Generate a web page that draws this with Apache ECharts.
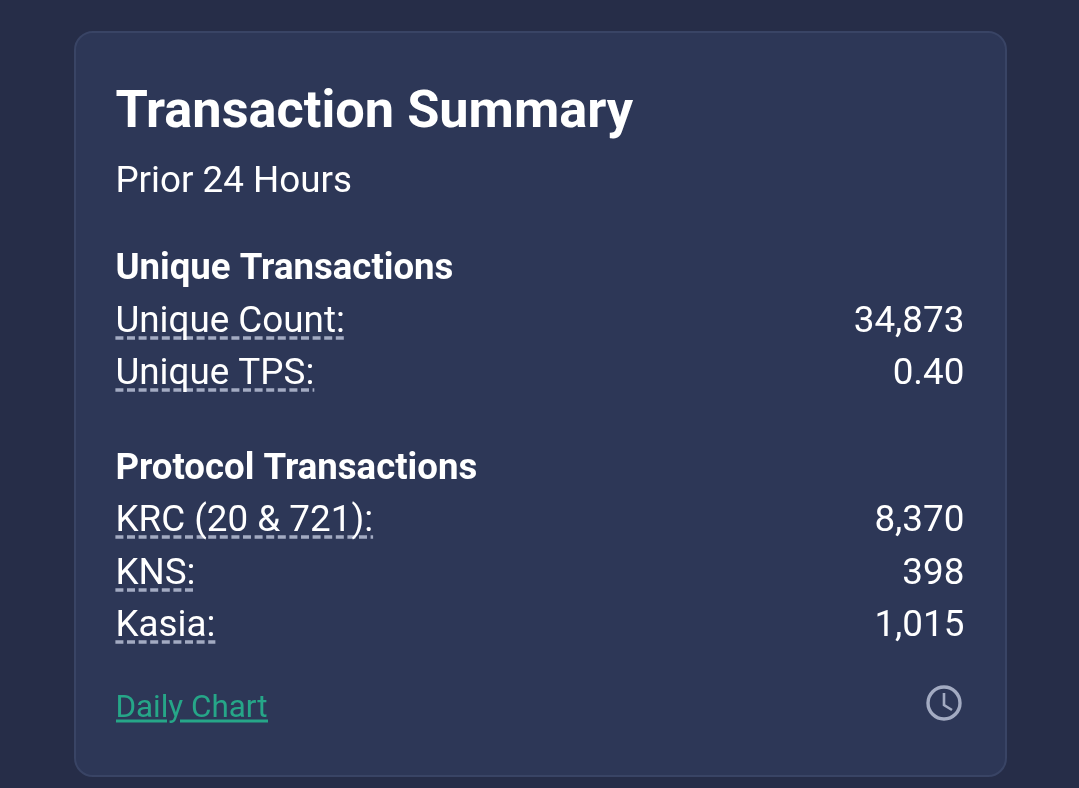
<!DOCTYPE html>
<html>
<head>
<meta charset="utf-8">
<title>Transaction Summary</title>
<script src="https://cdn.jsdelivr.net/npm/echarts@6/dist/echarts.min.js"></script>
<style>
html,body{margin:0;padding:0;background:#262d48;}
#chart{width:1079px;height:788px;}
</style>
</head>
<body>
<div id="chart"></div>
<script>
// card texts
var titleText = 'Transaction Summary';
var subText = 'Prior 24 Hours';
var uniqueHead = 'Unique Transactions';
var uniqueLabels = ['Unique Count:', 'Unique TPS:'];
var uniqueValues = ['34,873', '0.40'];
var protocolHead = 'Protocol Transactions';
var protocolLabels = ['KRC (20 & 721):', 'KNS:', 'Kasia:'];
var protocolValues = ['8,370', '398', '1,015'];
var linkText = 'Daily Chart';

var FONT = 'Roboto, sans-serif';
var WHITE = '#ffffff';
var DASH = '#a3abc2';
var GREEN = '#26a688';
var LEFT = 115.4, RIGHT = 964.4;
var ROW_SIZE = 36.8;

var measure = document.createElement('canvas').getContext('2d');

// y is the baseline, zrender only places by top/middle/bottom
function txt(str, x, y, size, weight, color, align){
    return {
        type: 'text', z: 5,
        style: {
            text: str, x: x, y: y - size * 0.25,
            fontFamily: FONT, fontSize: size, fontWeight: weight,
            fill: color, textAlign: align || 'left', verticalAlign: 'middle'
        }
    };
}

// one row: label with dashed underline on the left, value on the right
function row(label, value, y){
    measure.font = '400 ' + ROW_SIZE + 'px ' + FONT;
    var w = measure.measureText(label).width;
    return [
        {
            type: 'line', z: 3,
            shape: {x1: LEFT, y1: y + 6, x2: LEFT + w, y2: y + 6},
            style: {stroke: DASH, lineWidth: 3.6, lineDash: [8, 3.6]}
        },
        txt(label, LEFT, y, ROW_SIZE, 400, WHITE),
        txt(value, RIGHT, y, ROW_SIZE, 400, WHITE, 'right')
    ];
}

var els = [];
// card
els.push({
    type: 'rect', z: 1,
    shape: {x: 75, y: 32, width: 931, height: 744, r: 18},
    style: {fill: '#2d3757', stroke: '#394465', lineWidth: 2}
});
els.push(txt(titleText, LEFT, 127, 52.3, 700, WHITE));
els.push(txt(subText, LEFT, 192, ROW_SIZE, 400, WHITE));
els.push(txt(uniqueHead, LEFT, 279, 36.6, 700, WHITE));
uniqueLabels.forEach(function(label, i){
    els = els.concat(row(label, uniqueValues[i], [332, 384][i]));
});
els.push(txt(protocolHead, LEFT, 479, 36.6, 700, WHITE));
protocolLabels.forEach(function(label, i){
    els = els.concat(row(label, protocolValues[i], [531, 584, 636][i]));
});

// link, the underline skips the y descender
els.push(txt(linkText, LEFT, 717, 31.4, 400, GREEN));
els.push({type: 'line', z: 3, shape: {x1: 116, y1: 721, x2: 167, y2: 721}, style: {stroke: GREEN, lineWidth: 2.8}});
els.push({type: 'line', z: 3, shape: {x1: 180, y1: 721, x2: 268, y2: 721}, style: {stroke: GREEN, lineWidth: 2.8}});

// clock icon
els.push({type: 'circle', z: 4, shape: {cx: 944, cy: 703, r: 16}, style: {fill: 'none', stroke: DASH, lineWidth: 3.4}});
els.push({
    type: 'polyline', z: 4,
    shape: {points: [[944, 693], [944, 705], [952, 710]]},
    style: {fill: 'none', stroke: DASH, lineWidth: 2.6}
});

var myChart = echarts.init(document.getElementById('chart'));
myChart.setOption({
    backgroundColor: '#262d48',
    animation: false,
    graphic: {elements: els}
});
</script>
</body>
</html>
